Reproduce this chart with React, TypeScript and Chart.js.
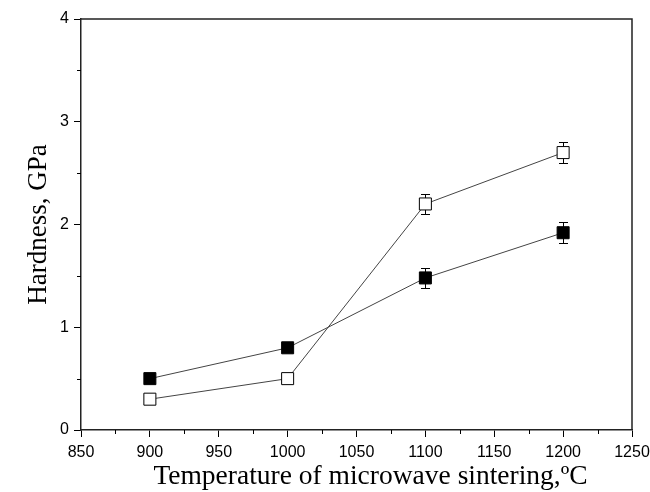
import React, { useEffect, useRef } from "react";
import { Chart, registerables } from "chart.js";

Chart.register(...registerables);

const temperatures = [900, 1000, 1100, 1200];
const hardnessFilled = [0.5, 0.8, 1.48, 1.92];
const errorFilled = [0, 0, 0.1, 0.1];
const hardnessOpen = [0.3, 0.5, 2.2, 2.7];
const errorOpen = [0, 0, 0.1, 0.1];
const xTickValues = [850, 900, 950, 1000, 1050, 1100, 1150, 1200, 1250];
const yTickValues = [0, 1, 2, 3, 4];
const xTitle = "Temperature of microwave sintering,ºC";
const yTitle = "Hardness, GPa";

const errors = [errorFilled, errorOpen];

const frameAndTicksPlugin = {
  id: "frameAndTicks",
  beforeDatasetsDraw(chart: any) {
    const ctx = chart.ctx;
    ctx.save();
    ctx.strokeStyle = "#000";
    ctx.lineWidth = 1;
    chart.data.datasets.forEach((ds: any, di: number) => {
      const xs = chart.scales.x;
      const ys = chart.scales.y;
      ds.data.forEach((p: any, i: number) => {
        const e = errors[di][i];
        if (!e) return;
        const px = Math.round(xs.getPixelForValue(p.x)) + 0.5;
        const top = Math.round(ys.getPixelForValue(p.y + e)) + 0.5;
        const bot = Math.round(ys.getPixelForValue(p.y - e)) + 0.5;
        ctx.beginPath();
        ctx.moveTo(px, top);
        ctx.lineTo(px, bot);
        ctx.moveTo(px - 4.5, top);
        ctx.lineTo(px + 4.5, top);
        ctx.moveTo(px - 4.5, bot);
        ctx.lineTo(px + 4.5, bot);
        ctx.stroke();
      });
    });
    ctx.restore();
  },
  afterDraw(chart: any) {
    const ctx = chart.ctx;
    const a = chart.chartArea;
    const xs = chart.scales.x;
    const ys = chart.scales.y;
    ctx.save();
    ctx.strokeStyle = "#222";
    ctx.lineWidth = 1.5;
    ctx.beginPath();
    ctx.moveTo(a.left, a.top);
    ctx.lineTo(a.right, a.top);
    ctx.lineTo(a.right, a.bottom);
    ctx.stroke();
    ctx.lineWidth = 1;
    ctx.strokeStyle = "#000";
    ctx.beginPath();
    for (let v = xs.min + 25; v < xs.max; v += 50) {
      const px = Math.round(xs.getPixelForValue(v)) + 0.5;
      ctx.moveTo(px, a.bottom);
      ctx.lineTo(px, a.bottom + 4);
    }
    for (let v = ys.min + 0.5; v < ys.max; v += 1) {
      const py = Math.round(ys.getPixelForValue(v)) + 0.5;
      ctx.moveTo(a.left, py);
      ctx.lineTo(a.left - 4, py);
    }
    ctx.stroke();
    // x-axis title
    ctx.fillStyle = "#000";
    ctx.font = "27.5px 'Liberation Serif'";
    ctx.textAlign = "center";
    ctx.textBaseline = "alphabetic";
    ctx.fillText(xTitle, (a.left + a.right) / 2 + 14, 484);
    ctx.restore();
  },
};

export default function App() {
  const ref = useRef<HTMLCanvasElement | null>(null);
  useEffect(() => {
    document.body.style.margin = "0";
    const chart = new Chart(ref.current as HTMLCanvasElement, {
      type: "line",
      data: {
        datasets: [
          {
            label: "filled",
            data: temperatures.map((t, i) => ({ x: t, y: hardnessFilled[i] })),
            borderColor: "#444",
            borderWidth: 1,
            pointStyle: "rect",
            pointRadius: 8.5,
            pointBackgroundColor: "#000",
            pointBorderColor: "#000",
            pointBorderWidth: 1,
            tension: 0,
          },
          {
            label: "open",
            data: temperatures.map((t, i) => ({ x: t, y: hardnessOpen[i] })),
            borderColor: "#444",
            borderWidth: 1,
            pointStyle: "rect",
            pointRadius: 8.5,
            pointBackgroundColor: "#fff",
            pointBorderColor: "#000",
            pointBorderWidth: 1,
            tension: 0,
          },
        ],
      },
      options: {
        animation: false,
        responsive: false,
        layout: { padding: { top: 19, right: 18, left: 0, bottom: 0 } },
        plugins: { legend: { display: false }, tooltip: { enabled: false } },
        scales: {
          x: {
            type: "linear",
            min: 850,
            max: 1250,
            afterBuildTicks: (s: any) => {
              s.ticks = xTickValues.map((v) => ({ value: v }));
            },
            afterFit: (s: any) => {
              s.height = 62;
              s.paddingRight = 0;
              s.paddingLeft = 0;
            },
            grid: { drawOnChartArea: false, tickLength: 7, color: "#000", tickWidth: 1 },
            border: { color: "#222", width: 1.5 },
            ticks: {
              color: "#000",
              font: { family: "Liberation Sans", size: 16 },
              padding: 6,
              maxRotation: 0,
              autoSkip: false,
              callback: (v: any) => String(v),
            },
            title: { display: false },
          },
          y: {
            type: "linear",
            min: 0,
            max: 4,
            afterBuildTicks: (s: any) => {
              s.ticks = yTickValues.map((v) => ({ value: v }));
            },
            afterFit: (s: any) => {
              s.width = 81;
              s.paddingTop = 0;
              s.paddingBottom = 0;
            },
            grid: { drawOnChartArea: false, tickLength: 7, color: "#000", tickWidth: 1 },
            border: { color: "#222", width: 1.5 },
            ticks: {
              color: "#000",
              font: { family: "Liberation Sans", size: 16 },
              padding: 5,
              callback: (v: any) => String(v),
            },
            title: {
              display: true,
              text: yTitle,
              color: "#000",
              font: { family: "Liberation Serif", size: 27 },
              padding: { top: 23, bottom: 0 },
            },
          },
        },
      },
      plugins: [frameAndTicksPlugin],
    } as any);
    return () => chart.destroy();
  }, []);
  return (
    <div style={{ position: "absolute", left: 0, top: 0, width: 650, height: 492, background: "#fff" }}>
      <canvas ref={ref} width={650} height={492} style={{ width: 650, height: 492 }} />
    </div>
  );
}
